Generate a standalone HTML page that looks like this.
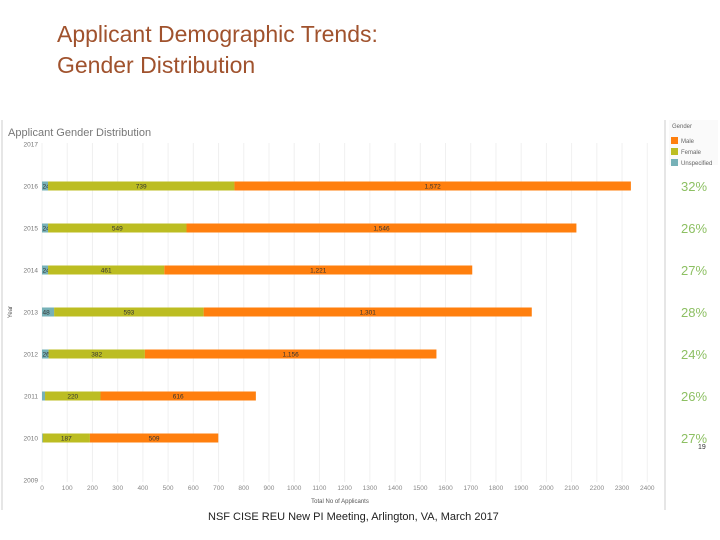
<!DOCTYPE html>
<html><head><meta charset="utf-8"><style>
body{margin:0;width:720px;height:540px;background:#fff;overflow:hidden;font-family:"Liberation Sans",sans-serif;position:relative}
.t{position:absolute;left:57px;top:19px;font-size:23px;line-height:31px;color:#a0522d}
.foot{position:absolute;left:208px;top:511px;font-size:11px;color:#222}
</style></head><body>
<div class="t">Applicant Demographic Trends:<br>Gender Distribution</div>
<svg id="c" width="720" height="540" style="position:absolute;left:0;top:0"></svg>
<div class="foot">NSF CISE REU New PI Meeting, Arlington, VA, March 2017</div>
<script>
const years=["2017","2016","2015","2014","2013","2012","2011","2010","2009"];
const unspecified=[0,24,24,24,48,26,12,3,0];
const female=[0,739,549,461,593,382,220,187,0];
const male=[0,1572,1546,1221,1301,1156,616,509,0];
const pct=["","32%","26%","27%","28%","24%","26%","27%",""];
const ticks=[0,100,200,300,400,500,600,700,800,900,1000,1100,1200,1300,1400,1500,1600,1700,1800,1900,2000,2100,2200,2300,2400];
const NS="http://www.w3.org/2000/svg",svg=document.getElementById('c');
const x=v=>42+v*0.2522, y=i=>144+i*42.0;
function mk(t,a,txt){const e=document.createElementNS(NS,t);for(const k in a)e.setAttribute(k,a[k]);if(txt!=null)e.textContent=txt;svg.appendChild(e);return e;}
let e;
e=mk('line',{x1:2,y1:120,x2:2,y2:510,stroke:'#ccc'});


e=mk('line',{x1:665,y1:120,x2:665,y2:510,stroke:'#ccc'});


e=mk('text',{x:8,y:136,'font-size':11,fill:'#777'},'Applicant Gender Distribution');


ticks.forEach(t=>{
 e=mk('line',{x1:x(t),y1:143,x2:x(t),y2:482,stroke:'#f0f0f0'});
 
 
 e=mk('text',{x:x(t),y:490,'font-size':6.5,fill:'#888','text-anchor':'middle'},t);
 
 
});
e=mk('text',{x:340,y:503,'font-size':6,fill:'#555','text-anchor':'middle'},'Total No of Applicants');


e=mk('text',{x:12,y:312,'font-size':6,fill:'#555','text-anchor':'middle',transform:'rotate(-90 12 312)'},'Year');


years.forEach((yr,i)=>{
 const cy=y(i);
 e=mk('text',{x:38,y:cy+2.5,'font-size':6.5,fill:'#777','text-anchor':'end'},yr);
 
 
 const segs=[[unspecified[i],'#76b1b7','unspecified'],[female[i],'#bcbd22','female'],[male[i],'#ff7f0e','male']];
 let acc=0;
 segs.forEach(([v,col,nm])=>{
  if(v>0){
   e=mk('rect',{x:x(acc),y:cy-4.5,width:x(acc+v)-x(acc),height:9,fill:col});
   
   
   if(v>=20){
    const lx=nm==='unspecified'?x(acc)+0.5:(x(acc)+x(acc+v))/2;
    e=mk('text',{x:lx,y:cy+2.5,'font-size':6.5,fill:'#333','text-anchor':nm==='unspecified'?'start':'middle'},v.toLocaleString('en-US'));
    
    
   }
  }
  acc+=v;
 });
 if(pct[i]){
  e=mk('text',{x:681,y:cy+5,'font-size':13,fill:'#8dc063'},pct[i]);
  
  
 }
});
e=mk('rect',{x:669,y:120,width:49,height:45,fill:'#fafafa'});


e=mk('text',{x:672,y:128,'font-size':6,fill:'#666'},'Gender');


[['Male','#ff7f0e'],['Female','#bcbd22'],['Unspecified','#76b1b7']].forEach(([n,c],k)=>{
 e=mk('rect',{x:671,y:137+k*11,width:7,height:7,fill:c});
 
 
 e=mk('text',{x:681,y:143+k*11,'font-size':6,fill:'#666'},n);
 
 
});
e=mk('text',{x:698,y:449,'font-size':7,fill:'#333'},'19');


</script>
</body></html>
